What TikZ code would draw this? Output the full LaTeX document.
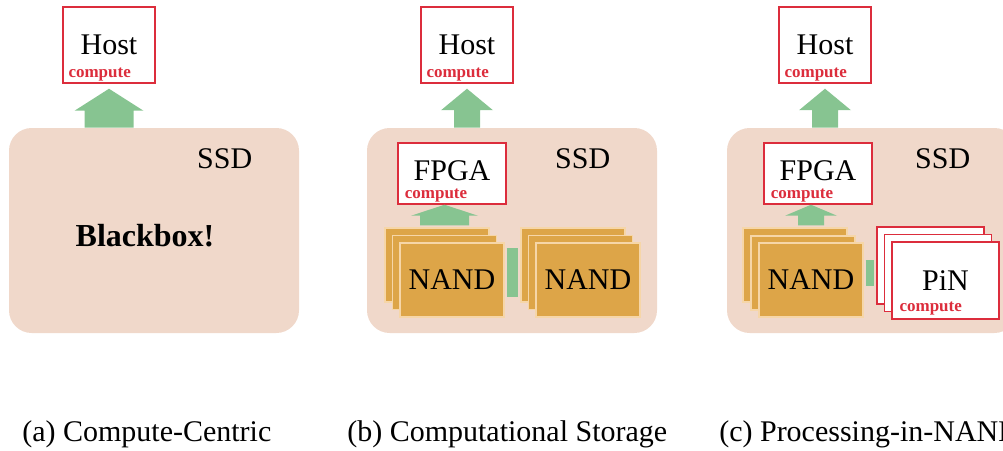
\documentclass[tikz,border=0pt]{standalone}
\usepackage{fontspec}
\setmainfont{Liberation Serif}
\usetikzlibrary{positioning}
\usetikzlibrary{calc}

\definecolor{ssdbg}{RGB}{240,216,202}
\definecolor{nandfill}{RGB}{221,165,72}
\definecolor{nandedge}{RGB}{246,214,168}
\definecolor{flowgreen}{RGB}{135,196,145}
\definecolor{computered}{RGB}{220,45,60}

\tikzset{
  bigfont/.style={font=\fontsize{22.5}{27}\selectfont},
  ssd/.style={fill=ssdbg, rounded corners=17pt, minimum width=217.5pt, minimum height=153.75pt, inner sep=0pt},
  unit/.style={draw=computered, line width=1.1pt, fill=white, inner sep=0pt, bigfont},
  hostbox/.style={unit, minimum width=69pt, minimum height=57pt},
  fpgabox/.style={unit, minimum width=81pt, minimum height=45.75pt, text depth=4.5pt},
  pinbox/.style={unit, minimum width=80.25pt, minimum height=57.75pt},
  nand/.style={fill=nandfill, draw=nandedge, line width=0.8pt, minimum width=78pt, minimum height=55.5pt, inner sep=0pt, bigfont},
  tag/.style={text=computered, inner sep=0pt, font=\fontsize{12.75}{14}\selectfont\bfseries},
  link/.style={draw=flowgreen, shorten <=1.5pt, shorten >=1.5pt},
  subcap/.style={anchor=base west, inner sep=0pt, bigfont},
}

% fat upward arrow: base, tip, half shaft, half head, head length
\newcommand{\flowarrow}[5]{%
  \fill[flowgreen] ($(#1)+(-#3,0)$) -- ($(#2)+(-#3,#5)$) -- ($(#2)+(-#4,#5)$) -- (#2)
    -- ($(#2)+(#4,#5)$) -- ($(#2)+(#3,#5)$) -- ($(#1)+(#3,0)$) -- cycle;}

\begin{document}
\begin{tikzpicture}[x=0.75pt, y=-0.75pt]
\useasboundingbox (0,0) rectangle (1003,450);

%% (a) compute-centric
\node[ssd] (ssdA) at (154,230.5) {};
\node[bigfont] (ssdAname) at ([xshift=162pt, yshift=-23.25pt]ssdA.north west) {SSD};
\node[font=\fontsize{24}{28}\selectfont\bfseries] (blackbox) at (145,236) {Blackbox!};
\node[hostbox] (hostA) at (109,45) {Host};
\node[tag, above right=2pt and 4.5pt of hostA.south west] (hostAtag) {compute};
\coordinate (baseA) at (ssdA.north -| hostA.south);
\coordinate (tipA) at ([yshift=-3.75pt]hostA.south);
\flowarrow{baseA}{tipA}{24.5}{34.5}{22}

%% (b) computational storage
\node[ssd] (ssdB) at (512,230.5) {};
\node[bigfont] (ssdBname) at ([xshift=162pt, yshift=-23.25pt]ssdB.north west) {SSD};
\node[hostbox] (hostB) at (467,45) {Host};
\node[tag, above right=2pt and 4.5pt of hostB.south west] (hostBtag) {compute};
\node[fpgabox] (fpgaB) at (452,173.5) {FPGA};
\node[tag, above right=2pt and 5.5pt of fpgaB.south west] (fpgaBtag) {compute};
% flash packages
\foreach \i/\d in {1/0,2/7.5}
  \node[nand] (nandL\i) at (437+\d,265+\d) {};
\node[nand] (nandL3) at (452,280) {NAND};
\foreach \i/\d in {1/0,2/7.5}
  \node[nand] (nandR\i) at (573+\d,265+\d) {};
\node[nand] (nandR3) at (588,280) {NAND};
\draw[link, line width=36.75pt] (nandL3.east |- nandL2) -- (nandR1.west |- nandL2);
% arrows
\coordinate (baseB) at (ssdB.north -| hostB.south);
\coordinate (tipB) at ([yshift=-3.75pt]hostB.south);
\flowarrow{baseB}{tipB}{13}{26}{21.5}
\coordinate (lowB) at ([yshift=1.5pt]nandL1.north -| nandL2.north);
\coordinate (topB) at (fpgaB.south -| nandL2.north);
\flowarrow{lowB}{topB}{24.5}{33.5}{11}

%% (c) processing-in-NAND
\node[ssd] (ssdC) at (872,230.5) {};
\node[bigfont] (ssdCname) at ([xshift=162pt, yshift=-23.25pt]ssdC.north west) {SSD};
\node[hostbox] (hostC) at (825,45) {Host};
\node[tag, above right=2pt and 4.5pt of hostC.south west] (hostCtag) {compute};
\node[fpgabox] (fpgaC) at (818,173.5) {FPGA};
\node[tag, above right=2pt and 5.5pt of fpgaC.south west] (fpgaCtag) {compute};
\foreach \i/\d in {1/0,2/8}
  \node[nand] (nandC\i) at (795+\d,265+\d) {};
\node[nand] (nandC3) at (811,280) {NAND};
% compute units inside the flash
\foreach \i/\d in {1/0,2/7.5}
  \node[pinbox] (pinC\i) at (930.5+\d,265.5+\d) {};
\node[pinbox] (pinC3) at (945.5,280.5) {PiN};
\node[tag, above right=3pt and 6pt of pinC3.south west] (pinCtag) {compute};
\draw[link, line width=19.5pt] (nandC3.east |- nandC2) -- (pinC1.west |- nandC2);
% arrows
\coordinate (baseC) at (ssdC.north -| hostC.south);
\coordinate (tipC) at ([yshift=-3.75pt]hostC.south);
\flowarrow{baseC}{tipC}{13}{26}{21.5}
\coordinate (lowC) at ([yshift=1.5pt]nandC1.north -| nandC3.north);
\coordinate (topC) at (fpgaC.south -| nandC3.north);
\flowarrow{lowC}{topC}{13}{26}{11}

%% captions
\node[subcap] (capA) at (22,441) {(a) Compute-Centric};
\node[subcap] (capB) at (347,441) {(b) Computational Storage};
\node[subcap] (capC) at (719,441) {(c) Processing-in-NAND};
\end{tikzpicture}
\end{document}
